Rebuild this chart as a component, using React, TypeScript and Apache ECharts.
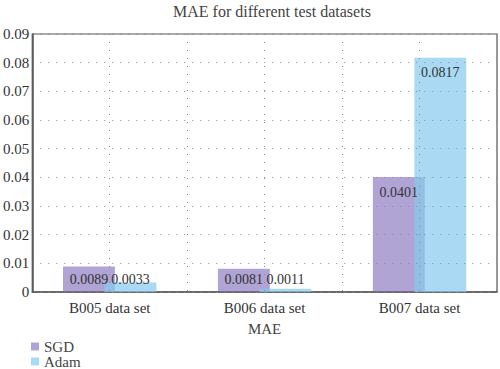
import React, { useEffect, useRef } from "react";
import * as echarts from "echarts";

const categories = ["B005 data set", "B006 data set", "B007 data set"];
const sgdValues = [0.0089, 0.0081, 0.0401];
const adamValues = [0.0033, 0.0011, 0.0817];
const seriesNames = ["SGD", "Adam"];

const FONT = "Liberation Serif";

function withLabels(values: number[]) {
  return values.map((v) => ({
    value: v,
    label:
      v < 0.01
        ? { position: "insideBottom", distance: 6 }
        : { position: "insideTop", distance: 8 },
  }));
}

export default function App() {
  const ref = useRef<HTMLDivElement>(null);
  useEffect(() => {
    if (!ref.current) return;
    const chart = echarts.init(ref.current, undefined, { renderer: "svg" });
    const dotted = { color: "#8a8a8a", width: 1, type: [1, 7] as any };
    const labelStyle = {
      show: true,
      fontFamily: FONT,
      fontSize: 14,
      color: "#333",
    };
    chart.setOption({
      animation: false,
      textStyle: { fontFamily: FONT },
      title: {
        text: "MAE for different test datasets",
        left: 168,
        top: -2,
        textStyle: { fontFamily: FONT, fontSize: 16, fontWeight: "normal", color: "#444" },
      },
      legend: {
        orient: "vertical",
        left: 31,
        top: 339,
        padding: 0,
        icon: "rect",
        itemWidth: 8,
        itemHeight: 8,
        itemGap: 0,
        data: seriesNames,
        textStyle: { fontFamily: FONT, fontSize: 15, color: "#444", lineHeight: 15 },
      },
      grid: {
        left: 32,
        right: 3,
        top: 34,
        bottom: 77,
        show: true,
        borderColor: "#555",
        borderWidth: 1.2,
      },
      xAxis: [
        {
          type: "category",
          data: categories,
          axisLine: { show: true, lineStyle: { color: "#555", width: 1.5 } },
          axisTick: { show: false },
          axisLabel: { fontFamily: FONT, fontSize: 15, color: "#333", margin: 8 },
          splitLine: { show: false },
          name: "MAE",
          nameLocation: "middle",
          nameGap: 29,
          nameTextStyle: { fontFamily: FONT, fontSize: 15, color: "#444" },
        },
        {
          type: "value",
          min: 0,
          max: 6,
          interval: 1,
          position: "bottom",
          z: 3,
          axisLine: { show: false },
          axisTick: { show: false },
          axisLabel: { show: false },
          splitLine: { show: true, lineStyle: dotted },
        },
      ],
      yAxis: {
        type: "value",
        min: 0,
        max: 0.09,
        interval: 0.01,
        z: 3,
        axisLine: { show: true, lineStyle: { color: "#555", width: 1.5 } },
        axisTick: { show: false },
        axisLabel: {
          fontFamily: FONT,
          fontSize: 15,
          color: "#333",
          margin: 3,
          formatter: (v: number) => (Math.abs(v) < 1e-9 ? "0" : v.toFixed(2)),
        },
        splitLine: { show: true, lineStyle: dotted },
      },
      series: [
        {
          name: seriesNames[0],
          type: "bar",
          xAxisIndex: 0,
          data: withLabels(sgdValues),
          barWidth: "33.5%",
          barGap: "-20%",
          itemStyle: { color: "rgba(123,103,183,0.6)" },
          label: labelStyle,
        },
        {
          name: seriesNames[1],
          type: "bar",
          xAxisIndex: 0,
          data: withLabels(adamValues),
          barWidth: "33.5%",
          barGap: "-20%",
          itemStyle: { color: "rgba(134,202,238,0.7)" },
          label: labelStyle,
        },
      ],
    });
    return () => chart.dispose();
  }, []);
  return <div ref={ref} style={{ width: 500, height: 369, position: "absolute", left: 0, top: 0 }} />;
}
